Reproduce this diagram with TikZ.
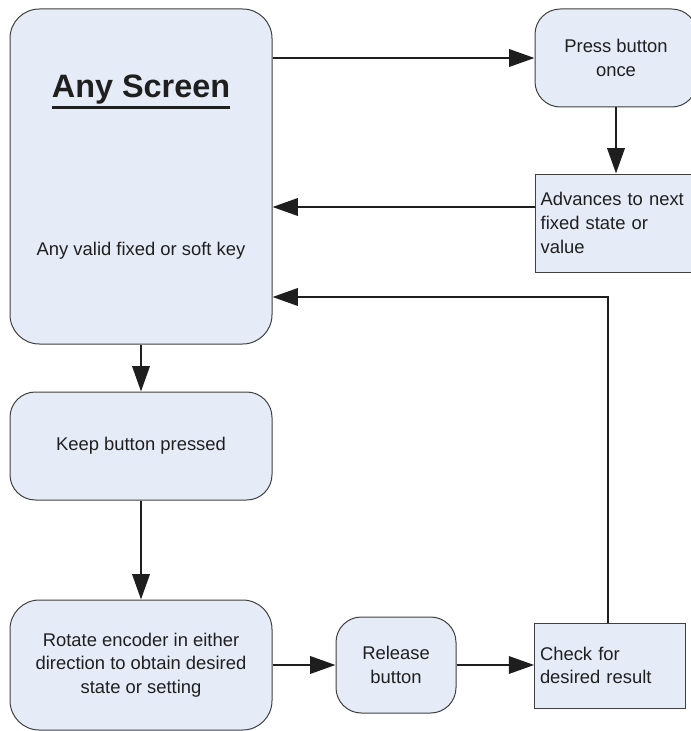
\documentclass[tikz,border=0pt]{standalone}
\usepackage{fontspec}
\setmainfont{Liberation Sans}
\usetikzlibrary{arrows.meta}
\definecolor{boxfill}{RGB}{230,236,247}
\definecolor{boxline}{RGB}{64,64,64}
\definecolor{arrowline}{RGB}{30,30,30}
\newcommand{\thickul}[1]{\vtop{\hbox{#1}\kern1.3pt\hrule height 2pt}}

\begin{document}
\begin{tikzpicture}[x=0.75pt, y=-0.75pt, >={Triangle[length=19pt,width=13pt]},
  round node/.style={rectangle, rounded corners=19pt, draw=boxline, line width=0.75pt, fill=boxfill, align=center},
  square node/.style={rectangle, draw=boxline, line width=0.75pt, fill=boxfill, align=left, inner xsep=4pt},
  flow/.style={->, draw=arrowline, line width=1.8pt}]
            \tikzstyle{every node}=[font=\fontsize{13.8}{17.8}\selectfont, text=black!88]
            \useasboundingbox (0,0) rectangle (691,731);

              \node[round node, rounded corners=22pt, minimum width=196.5pt, minimum height=251.25pt] (1) at (141,176.5) {};
              \node[font=\fontsize{24.3}{29}\selectfont\bfseries, anchor=base] (1t) at (141,98) {\thickul{Any Screen}};
              \node[anchor=base] (1b) at (141,255) {Any valid fixed or soft key};
              \node[round node, minimum width=121.5pt, minimum height=73.5pt] (2) at (616,58) {Press button\\once};
              \node[square node, text width=110pt, minimum height=73.5pt] (3) at (614,223) {Advances to next\\fixed state or\\value};
              \node[round node, minimum width=196.5pt, minimum height=81pt] (4) at (141,446) {Keep button pressed};
              \node[round node, rounded corners=22pt, minimum width=196.5pt, minimum height=97.5pt] (5) at (141,665) {Rotate encoder in either\\direction to obtain desired\\state or setting};
              \node[round node, minimum width=90pt, minimum height=72pt] (6) at (396,665) {Release\\button};
              \node[square node, text width=105pt, minimum height=63.75pt] (7) at (610,665.5) {Check for\\desired result};

              \coordinate (adv) at ([yshift=12pt]3.west);
              \coordinate (ret) at (608,297);

              \path[every edge/.style={flow}]
                (1.east |- 2.west) edge (2.west)
                (2.south) edge (2.south |- 3.north)
                (adv) edge (adv -| 1.east)
                (1.south) edge (4.north)
                (4.south) edge (5.north)
                (5.east |- 6.west) edge (6.west)
                (6.east) edge (6.east -| 7.west);
              \draw[flow] (7.north -| ret) -- (ret) -- (ret -| 1.east);

            \end{tikzpicture}
\end{document}
